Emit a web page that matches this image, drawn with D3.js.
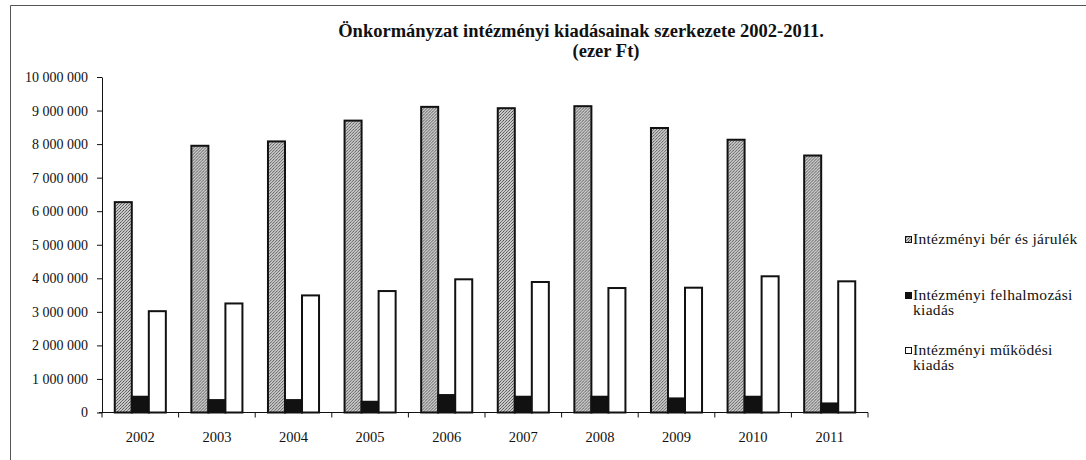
<!DOCTYPE html>
<html>
<head>
<meta charset="utf-8">
<title>Önkormányzat intézményi kiadásainak szerkezete</title>
<script src="https://cdn.jsdelivr.net/npm/d3@7"></script>
<style>
  body { margin: 0; background: #fff; }
  svg text { font-family: "Liberation Serif", "Times New Roman", serif !important; fill: #111; }
</style>
</head>
<body>
<svg id="chart" width="1086" height="460"></svg>
<script>
// adatok (ezer Ft)
const evek = ["2002", "2003", "2004", "2005", "2006", "2007", "2008", "2009", "2010", "2011"];
const berJarulek = [6270000, 7950000, 8080000, 8700000, 9110000, 9070000, 9130000, 8480000, 8130000, 7660000];
const felhalmozasi = [470000, 370000, 370000, 320000, 520000, 470000, 470000, 420000, 470000, 270000];
const mukodesi = [3020000, 3250000, 3490000, 3620000, 3970000, 3890000, 3710000, 3720000, 4060000, 3910000];
const yTicks = [0, 1000000, 2000000, 3000000, 4000000, 5000000, 6000000, 7000000, 8000000, 9000000, 10000000];

const sorozatok = [
  { nev: "Intézményi bér és járulék", sor: ["Intézményi bér és járulék"], ertekek: berJarulek, fill: "url(#pontozott)" },
  { nev: "Intézményi felhalmozási kiadás", sor: ["Intézményi felhalmozási", "kiadás"], ertekek: felhalmozasi, fill: "#111" },
  { nev: "Intézményi működési kiadás", sor: ["Intézményi működési", "kiadás"], ertekek: mukodesi, fill: "#fff" }
];

const svg = d3.select("#chart");
const serif = "'Liberation Serif', 'Times New Roman', serif";

// pöttyös minta a szürke oszlopokhoz
const defs = svg.append("defs");
const pat = defs.append("pattern")
  .attr("id", "pontozott")
  .attr("width", 3).attr("height", 3)
  .attr("patternUnits", "userSpaceOnUse");
pat.append("rect").attr("width", 3).attr("height", 3).attr("fill", "#c8c8c8");
pat.append("rect").attr("width", 1).attr("height", 1).attr("fill", "#555");
pat.append("rect").attr("x", 2).attr("y", 1).attr("width", 1).attr("height", 1).attr("fill", "#666");
pat.append("rect").attr("x", 1).attr("y", 2).attr("width", 1).attr("height", 1).attr("fill", "#777");

// keret
svg.append("path")
  .attr("d", "M10.5,460 L10.5,5.5 L1086,5.5")
  .attr("fill", "none")
  .attr("stroke", "#555")
  .attr("stroke-width", 1);

// cím
svg.append("text")
  .attr("x", 581).attr("y", 37)
  .attr("text-anchor", "middle")
  .style("font-family", serif)
  .attr("font-size", 18.5).attr("font-weight", "bold")
  .text("Önkormányzat intézményi kiadásainak szerkezete 2002-2011.");
svg.append("text")
  .attr("x", 606).attr("y", 57)
  .attr("text-anchor", "middle")
  .style("font-family", serif)
  .attr("font-size", 18.5).attr("font-weight", "bold")
  .text("(ezer Ft)");

const x0 = d3.scaleBand().domain(evek).range([102, 868]);
const x1 = d3.scaleBand().domain(d3.range(sorozatok.length)).range([0, x0.bandwidth()]).paddingOuter(0.75);
const y = d3.scaleLinear().domain([0, 10000000]).range([412.5, 77]);

const fmt = v => d3.format(",")(v).replace(/,/g, " ");

// y tengely
const yAxis = svg.append("g")
  .attr("transform", "translate(102,0)")
  .call(d3.axisLeft(y).tickValues(yTicks).tickFormat(fmt).tickSize(5).tickSizeOuter(0).tickPadding(9));
yAxis.attr("font-family", null);
yAxis.select(".domain").attr("stroke", "#111");
yAxis.selectAll(".tick line").attr("stroke", "#111");
yAxis.selectAll("text")
  .style("font-family", serif)
  .attr("font-size", 14)
  .attr("fill", "#111");

// oszlopok
const csoport = svg.append("g").selectAll("g")
  .data(evek)
  .join("g")
  .attr("transform", d => `translate(${x0(d)},0)`);

csoport.selectAll("rect")
  .data((d, i) => sorozatok.map((s, j) => ({ j: j, v: s.ertekek[i], fill: s.fill })))
  .join("rect")
  .attr("x", d => x1(d.j))
  .attr("width", x1.bandwidth())
  .attr("y", d => y(d.v))
  .attr("height", d => y(0) - y(d.v))
  .attr("fill", d => d.fill)
  .attr("stroke", "#111")
  .attr("stroke-width", 2);

// x tengely
const xAxis = svg.append("g")
  .attr("transform", "translate(0,412.5)");
xAxis.append("line")
  .attr("x1", 99).attr("x2", 868)
  .attr("stroke", "#111");
xAxis.selectAll(".tk")
  .data(evek.concat(["vege"]))
  .join("line")
  .attr("class", "tk")
  .attr("x1", (d, i) => i < evek.length ? x0(d) : x0.range()[1])
  .attr("x2", (d, i) => i < evek.length ? x0(d) : x0.range()[1])
  .attr("y1", 0).attr("y2", 5)
  .attr("stroke", "#111");
xAxis.selectAll(".cimke")
  .data(evek)
  .join("text")
  .attr("class", "cimke")
  .attr("x", d => x0(d) + x0.bandwidth() / 2)
  .attr("y", 29)
  .attr("text-anchor", "middle")
  .style("font-family", serif)
  .attr("font-size", 14.5)
  .text(d => d);

// jelmagyarázat
const legendY = [244, 300, 355];
const jm = svg.append("g").selectAll("g")
  .data(sorozatok)
  .join("g")
  .attr("transform", (d, i) => `translate(905,${legendY[i]})`);
jm.append("rect")
  .attr("x", 0.5).attr("y", -7.5)
  .attr("width", 6).attr("height", 6)
  .attr("fill", d => d.fill)
  .attr("stroke", "#111");
jm.each(function (d) {
  const t = d3.select(this).append("text")
    .attr("x", 8).attr("y", 0)
    .style("font-family", serif)
    .style("letter-spacing", "0.3px")
    .attr("font-size", 15.5);
  t.selectAll("tspan")
    .data(d.sor)
    .join("tspan")
    .attr("x", 8)
    .attr("dy", (s, k) => k === 0 ? 0 : 15)
    .text(s => s);
});
</script>
</body>
</html>
